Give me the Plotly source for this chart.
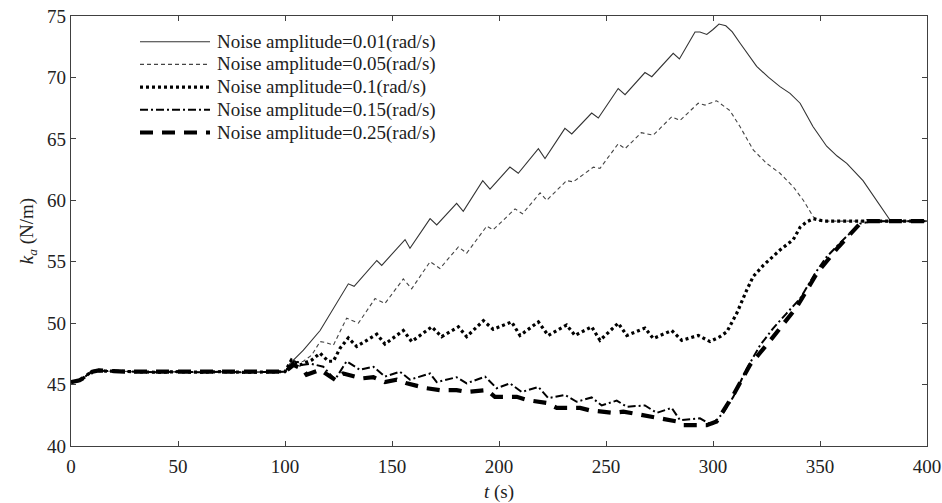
import plotly.graph_objects as go

# Common start segment (all curves coincide for t <= 100 s)
t_start = [0, 2, 4, 6, 8, 10, 13, 16, 20, 25, 30, 40, 50, 60, 70, 80, 90, 95]
k_start = [45.2, 45.25, 45.35, 45.55, 45.85, 46.05, 46.15, 46.1, 46.1, 46.05, 46.05, 46.0, 46.05, 46.0, 46.05, 46.0, 46.0, 46.0]

# Noise amplitude = 0.01 rad/s
t_001 = [100, 102.3, 108.6, 116.4, 124.9, 129.6, 132.3, 142.9, 145.2, 156.1, 158.4, 167.8, 170.9, 180.2, 183.3,
         192.4, 195.8, 205.1, 209.0, 218.4, 221.5, 230.8, 234.0, 243.3, 246.4, 255.7, 258.9, 268.2, 271.4, 281.4,
         284.3, 291.6, 293.9, 297.1, 300.0, 302.8, 306.0, 309.0, 312.6, 316.5, 320.4, 326.0, 331.3, 336.0, 340.7, 346.7,
         353.1, 358.0, 362.5, 370.1, 376.5, 382.7, 390, 400]
k_001 = [46.05, 46.7, 47.8, 49.4, 51.9, 53.2, 53.0, 55.1, 54.7, 56.8, 56.1, 58.5, 58.0, 59.75, 59.1,
         61.6, 60.9, 62.7, 62.2, 64.2, 63.4, 65.85, 65.4, 67.1, 66.7, 69.1, 68.6, 70.4, 70.06, 71.96,
         71.5, 73.7, 73.7, 73.5, 73.9, 74.35, 74.2, 73.7, 72.8, 71.8, 70.9, 70.0, 69.25, 68.7, 67.9, 66.0,
         64.4, 63.6, 63.0, 61.6, 60.0, 58.4, 58.3, 58.3]

# Noise amplitude = 0.05 rad/s
t_005 = [100, 104, 108.6, 112.5, 116.4, 119.5, 122.6, 128.8, 134.3, 142.1, 146.7, 155.3, 159.2, 167.8, 172.4,
         181.0, 184.9, 194.3, 197.3, 207.5, 211.0, 219.2, 222.3, 231.6, 234.7, 244.1, 247.2, 255.7, 258.9, 266.5,
         272.1, 280.7, 284.6, 293.1, 296.3, 301.7, 307.9, 312.6, 318.8, 325.1, 331.3, 337.5, 342.2, 346.9, 350, 400]
k_005 = [46.05, 46.8, 46.9, 47.4, 48.5, 48.4, 48.2, 50.4, 50.0, 52.0, 51.6, 53.6, 52.8, 55.0, 54.45,
         56.2, 55.7, 57.9, 57.6, 59.3, 58.9, 60.6, 60.0, 61.6, 61.5, 62.7, 62.6, 64.6, 64.2, 65.5,
         65.3, 66.8, 66.5, 67.9, 67.75, 68.1, 67.3, 66.0, 64.1, 63.0, 62.2, 61.1, 60.0, 58.65, 58.3, 58.3]

# Noise amplitude = 0.1 rad/s
t_01 = [100, 103, 107, 112.5, 116.4, 120.2, 122.6, 125.7, 129.6, 133.5, 142.9, 146.7, 155.3, 159.2, 168.6,
        173.2, 181.0, 184.9, 192.7, 197.3, 205.9, 209.8, 218.4, 223.0, 231.6, 235.5, 243.3, 247.2, 255.7, 259.7,
        268.2, 272.1, 280.7, 285.4, 293.1, 298.6, 303.3, 306.5, 311.1, 315.8, 318.8, 323.5, 331.3, 337.5, 340.7,
        343.8, 346.9, 352, 400]
k_01 = [46.05, 47.0, 46.6, 47.0, 47.55, 46.9, 46.9, 47.95, 48.8, 48.1, 49.1, 48.3, 49.4, 48.5, 49.7,
        48.9, 49.7, 48.9, 50.2, 49.5, 50.1, 49.0, 50.1, 49.0, 49.85, 49.0, 49.7, 48.6, 50.0, 49.0,
        49.6, 48.75, 49.4, 48.6, 49.0, 48.5, 48.9, 49.3, 50.8, 52.7, 53.8, 54.7, 55.95, 56.8, 57.8,
        58.25, 58.5, 58.3, 58.3]

# Noise amplitude = 0.15 rad/s
t_015 = [100, 104.7, 107.8, 112, 117.9, 123.4, 128.8, 135.0, 141.3, 146.7, 153.7, 158.4, 167.8, 170.9, 180.2,
         184.9, 193.5, 198.9, 205.1, 210.6, 218.4, 223.0, 230.8, 236.3, 243.3, 248.0, 255.0, 259.7, 268.2, 273.7,
         280.7, 284.6, 293.9, 299.4, 304.8, 309.5, 315.8, 322.0, 328.2, 334.4, 340.7, 347.7, 353.1, 360.9, 368.7,
         375, 400]
k_015 = [46.05, 47.0, 46.6, 46.7, 46.45, 45.4, 46.9, 46.2, 46.45, 45.65, 46.05, 45.4, 45.9, 45.2, 45.6,
         45.1, 45.65, 44.7, 45.1, 44.4, 44.8, 43.9, 44.15, 43.6, 43.95, 43.3, 43.7, 43.2, 43.3, 42.7,
         43.1, 42.1, 42.25, 41.7, 42.7, 44.0, 46.3, 48.2, 49.6, 50.8, 52.0, 54.05, 55.4, 56.8, 58.1,
         58.3, 58.3]

# Noise amplitude = 0.25 rad/s
t_025 = [100, 104, 108.6, 110.1, 116.4, 123.4, 127.2, 135.8, 141.3, 146.7, 152.2, 156.9, 166.2, 172.4, 180.2,
         184.9, 194.3, 198.1, 208.3, 212.9, 222.3, 227.0, 237.9, 242.5, 253.4, 258.1, 269.0, 273.7, 283.0, 286.1,
         297.1, 301.7, 309.5, 317.3, 328.2, 339.1, 348.5, 358.6, 368.7, 372, 400]
k_025 = [46.05, 46.6, 46.2, 45.8, 46.2, 45.4, 45.9, 45.5, 45.6, 45.2, 45.4, 45.1, 44.7, 44.55, 44.55,
         44.4, 44.55, 44.0, 44.0, 43.75, 43.5, 43.1, 43.1, 42.9, 42.7, 42.8, 42.5, 42.3, 42.0, 41.7,
         41.7, 42.0, 44.15, 46.6, 48.9, 51.3, 54.05, 56.2, 58.1, 58.3, 58.3]

labels = ["Noise amplitude=0.01(rad/s)", "Noise amplitude=0.05(rad/s)", "Noise amplitude=0.1(rad/s)",
          "Noise amplitude=0.15(rad/s)", "Noise amplitude=0.25(rad/s)"]

x_ticks = [0, 50, 100, 150, 200, 250, 300, 350, 400]
y_ticks = [40, 45, 50, 55, 60, 65, 70, 75]

styles = [
    dict(color="#333333", width=1.1, dash="solid"),
    dict(color="#444444", width=1.1, dash="4px,3px"),
    dict(color="#000000", width=3.2, dash="3px,3px"),
    dict(color="#000000", width=2.0, dash="8px,3px,2px,3px"),
    dict(color="#000000", width=4.2, dash="13px,9px"),
]

series = [(t_001, k_001), (t_005, k_005), (t_01, k_01), (t_015, k_015), (t_025, k_025)]

FONT = "Liberation Serif, Times New Roman, serif"
FS = 19
TXT = "#222222"

fig = go.Figure()
for (tt, kk), st, lab in zip(series, styles, labels):
    fig.add_trace(go.Scatter(x=t_start + tt, y=k_start + kk, mode="lines", name=lab,
                             line=st, showlegend=False))

# Manual legend (samples + text) in paper coordinates
row_px = [41.7, 64.4, 87.1, 109.8, 132.5]
plot_top, plot_bot, plot_l, plot_r = 16, 446, 71, 927
for i, (st, lab) in enumerate(zip(styles, labels)):
    yp = (plot_bot - row_px[i]) / (plot_bot - plot_top)
    fig.add_shape(type="line", xref="paper", yref="paper",
                  x0=(140 - plot_l) / (plot_r - plot_l), x1=(210 - plot_l) / (plot_r - plot_l),
                  y0=yp, y1=yp, line=st)
    fig.add_annotation(xref="paper", yref="paper", x=(215 - plot_l) / (plot_r - plot_l), y=yp,
                       text=lab, showarrow=False, xanchor="left", yanchor="middle",
                       font=dict(family=FONT, size=FS, color=TXT))

axis_common = dict(showline=True, linecolor="#404040", linewidth=1.3, mirror="ticks",
                   ticks="inside", ticklen=5, tickcolor="#404040", tickwidth=1,
                   showgrid=False, zeroline=False, automargin=False,
                   tickfont=dict(family=FONT, size=FS, color=TXT))

fig.update_xaxes(range=[0, 400], tickvals=x_ticks, ticktext=[str(v) for v in x_ticks],
                 title=dict(text="<i>t</i> (s)", font=dict(family=FONT, size=FS, color=TXT), standoff=10),
                 ticklabelstandoff=3, **axis_common)
fig.update_yaxes(range=[40, 75], tickvals=y_ticks, ticktext=[str(v) for v in y_ticks],
                 title=dict(text="<i>k</i><sub><i>a</i></sub> (N/m)",
                            font=dict(family=FONT, size=FS, color=TXT), standoff=8),
                 **axis_common)

fig.update_layout(width=942, height=503, margin=dict(l=71, r=15, t=16, b=57, autoexpand=False),
                  plot_bgcolor="white", paper_bgcolor="white", showlegend=False)

fig.write_html("out.html")
